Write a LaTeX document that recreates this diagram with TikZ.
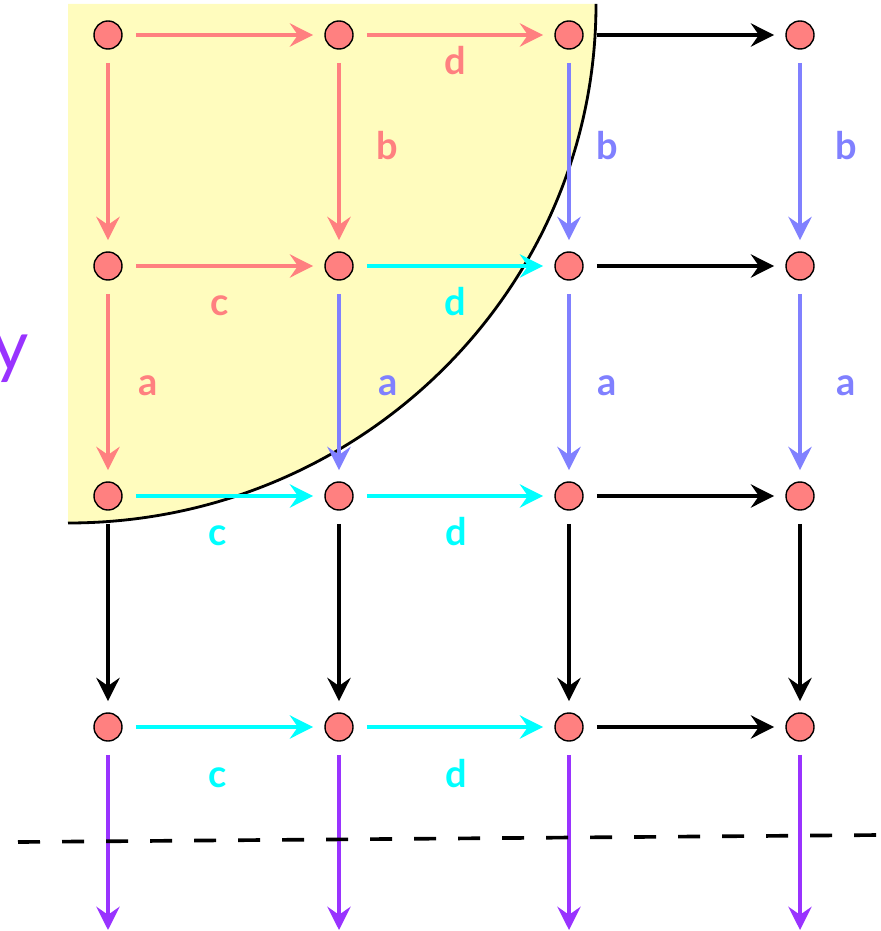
\documentclass[tikz,border=0pt]{standalone}
\usepackage{fontspec}
\setmainfont{Lato}
\usetikzlibrary{arrows.meta}
\definecolor{latSalmon}{RGB}{255,128,128}
\definecolor{latBlue}{RGB}{128,128,255}
\definecolor{latCyan}{RGB}{0,255,255}
\definecolor{latPurple}{RGB}{153,51,255}
\definecolor{latYellow}{RGB}{255,252,190}
\begin{document}
\begin{tikzpicture}[x=0.025cm, y=-0.025cm]
% lattice drawn in pixel units, origin at the top left
\providecommand{\latLabelFont}{\fontsize{27}{30}\selectfont\bfseries}
\providecommand{\latLineWidth}{3.2pt}
\tikzset{
  site/.style={circle, draw=black, line width=1pt, fill=latSalmon, minimum size=0.7cm, inner sep=0pt},
  link/.style={line width=\latLineWidth, -{Stealth[length=0.58cm, width=0.58cm, inset=0.2cm]}, shorten <=0.33cm, shorten >=0.28cm},
  letter/.style={anchor=base, inner sep=0pt, font=\latLabelFont},
  cutline/.style={draw=black, line width=2.6pt, dash pattern=on 0.55cm off 0.55cm},
}
\useasboundingbox (0,0) rectangle (880,931);
% Shaded quarter region
\fill[latYellow] (68,4) -- (596,4) arc[start angle=0, end angle=90, x radius=528, y radius=519] -- cycle;
\draw[black, line width=2pt] (596,4) arc[start angle=0, end angle=90, x radius=528, y radius=519];
% Sites
\node[site] (n11) at (108,35) {};
\node[site] (n12) at (339,35) {};
\node[site] (n13) at (569,35) {};
\node[site] (n14) at (800,35) {};
\node[site] (n21) at (108,266) {};
\node[site] (n22) at (339,266) {};
\node[site] (n23) at (569,266) {};
\node[site] (n24) at (800,266) {};
\node[site] (n31) at (108,496) {};
\node[site] (n32) at (339,496) {};
\node[site] (n33) at (569,496) {};
\node[site] (n34) at (800,496) {};
\node[site] (n41) at (108,727) {};
\node[site] (n42) at (339,727) {};
\node[site] (n43) at (569,727) {};
\node[site] (n44) at (800,727) {};
% Free ends of the outgoing arrows
\coordinate (b1) at (108,930);
\coordinate (b2) at (339,930);
\coordinate (b3) at (569,930);
\coordinate (b4) at (800,930);
% Salmon links
\begin{scope}[draw=latSalmon, color=latSalmon]
  \draw[link] (n11) -- (n12);
  \draw[link] (n12) -- (n13);
  \draw[link] (n11) -- (n21);
  \draw[link] (n12) -- (n22);
  \draw[link] (n21) -- (n22);
  \draw[link] (n21) -- (n31);
\end{scope}
% Blue links
\begin{scope}[draw=latBlue, color=latBlue]
  \draw[link] (n13) -- (n23);
  \draw[link] (n14) -- (n24);
  \draw[link] (n22) -- (n32);
  \draw[link] (n23) -- (n33);
  \draw[link] (n24) -- (n34);
\end{scope}
% Cyan links
\begin{scope}[draw=latCyan, color=latCyan]
  \draw[link] (n22) -- (n23);
  \draw[link] (n31) -- (n32);
  \draw[link] (n32) -- (n33);
  \draw[link] (n41) -- (n42);
  \draw[link] (n42) -- (n43);
\end{scope}
% Black links
\begin{scope}[draw=black, color=black]
  \draw[link] (n13) -- (n14);
  \draw[link] (n23) -- (n24);
  \draw[link] (n33) -- (n34);
  \draw[link] (n43) -- (n44);
  \draw[link] (n31) -- (n41);
  \draw[link] (n32) -- (n42);
  \draw[link] (n33) -- (n43);
  \draw[link] (n34) -- (n44);
\end{scope}
% Purple links
\begin{scope}[draw=latPurple, color=latPurple]
  \draw[link, shorten >=0pt] (n41) -- (b1);
  \draw[link, shorten >=0pt] (n42) -- (b2);
  \draw[link, shorten >=0pt] (n43) -- (b3);
  \draw[link, shorten >=0pt] (n44) -- (b4);
\end{scope}
% Labels
\node[letter, text=latSalmon] (d12) at (455,75) {d};
\node[letter, text=latSalmon] (b2x) at (387,160) {b};
\node[letter, text=latBlue] (b3x) at (607,160) {b};
\node[letter, text=latBlue] (b4x) at (846,160) {b};
\node[letter, text=latSalmon] (c21) at (220,315) {c};
\node[letter, text=latCyan] (d22) at (455,315) {d};
\node[letter, text=latSalmon] (a1x) at (148,395) {a};
\node[letter, text=latBlue] (a2x) at (388,395) {a};
\node[letter, text=latBlue] (a3x) at (607,395) {a};
\node[letter, text=latBlue] (a4x) at (846,395) {a};
\node[letter, text=latCyan] (c31) at (218,545) {c};
\node[letter, text=latCyan] (d32) at (456,545) {d};
\node[letter, text=latCyan] (c41) at (218,787) {c};
\node[letter, text=latCyan] (d42) at (456,787) {d};
\node[anchor=base, inner sep=0pt, text=latPurple, font=\fontsize{50}{54}\selectfont] (ylab) at (11,370) {y};
% Cut line
\coordinate (cutl) at (18,842);
\coordinate (cutr) at (880,835);
\draw[cutline] (cutl) -- (cutr);
\end{tikzpicture}
\end{document}
